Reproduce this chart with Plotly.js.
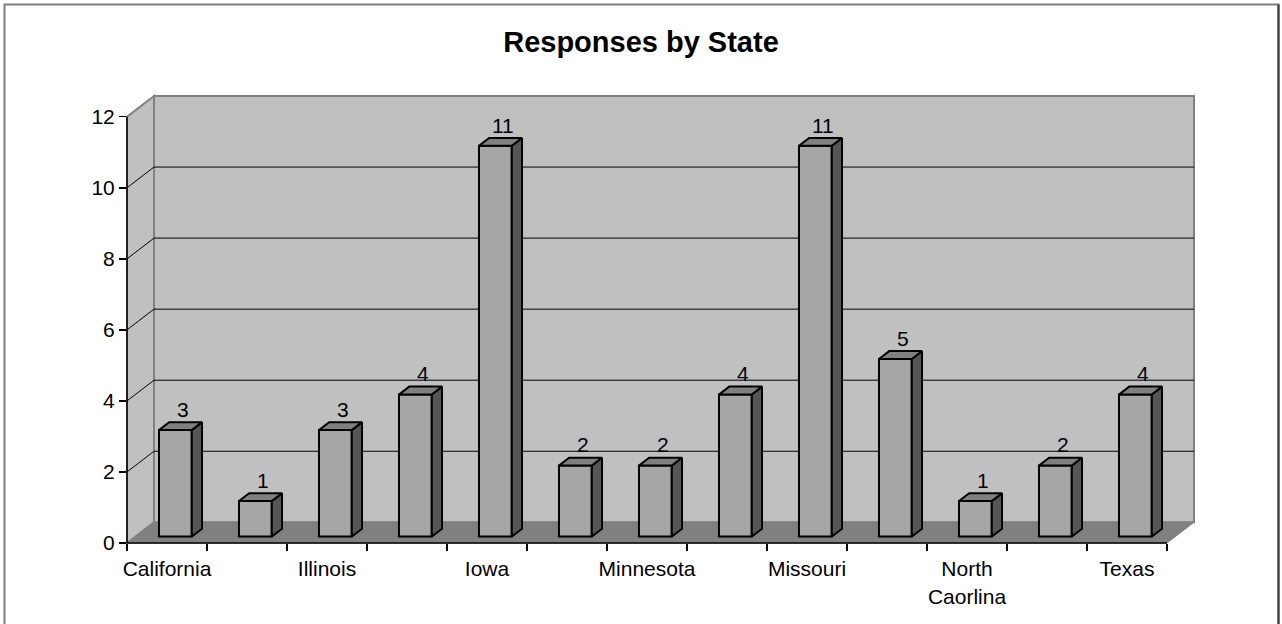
<!DOCTYPE html>
<html>
<head>
<meta charset="utf-8">
<script src="https://cdn.plot.ly/plotly-3.0.1.min.js"></script>
<style>
  html, body { margin: 0; padding: 0; background: #ffffff; }
  #chart { width: 1282px; height: 624px; }
</style>
</head>
<body>
<div id="chart"></div>
<script>
// ---- data ----
// Only every other category label is printed in the reference; unreadable ones are left blank.
var categories = ["California", "", "Illinois", "", "Iowa", "", "Minnesota", "", "Missouri", "", "North<br>Caorlina", "", "Texas"];
var responses  = [3, 1, 3, 4, 11, 2, 2, 4, 11, 5, 1, 2, 4];
var yTickVals  = [0, 2, 4, 6, 8, 10, 12];
var chartTitle = "Responses by State";

// ---- 3D geometry (oblique projection) ----
var n = categories.length;
var W = 1282, H = 624;
var mL = 127, mR = 88, mT = 96, mB = 81;
var plotW = W - mL - mR, plotH = H - mT - mB;
var xPerUnit = 80;                 // px per category
var yPerUnit = 35.525;             // px per response
var dxD = 27 / xPerUnit;           // depth offset in x units
var yMax = plotH / yPerUnit;       // top of back wall
var dyD = yMax - 12;               // depth offset in y units
var xMin = -0.5, xMax = xMin + plotW / xPerUnit;
var f0 = 0.31, f1 = 0.69;          // bar front/back depth fractions
var hw = 0.205;                    // bar half width

function px(x) { return (x - xMin) / (xMax - xMin); }
function py(y) { return y / yMax; }
function pxPix(p) { return (p - mL) / plotW; }
function pyPix(p) { return (mT + plotH - p) / plotH; }

var shapes = [];
var wallL = px(xMin + dxD), wallB = py(dyD);
// back wall
shapes.push({type: 'rect', xref: 'paper', yref: 'paper', x0: wallL, x1: 1, y0: wallB, y1: 1,
  fillcolor: '#c0c0c0', line: {color: '#808080', width: 2}, layer: 'below'});
// left side wall
shapes.push({type: 'path', xref: 'paper', yref: 'paper', layer: 'below',
  path: 'M0,0 L0,' + py(12) + ' L' + wallL + ',1 L' + wallL + ',' + wallB + ' Z',
  fillcolor: '#c0c0c0', line: {color: '#808080', width: 2}});
// floor
shapes.push({type: 'path', xref: 'paper', yref: 'paper', layer: 'below',
  path: 'M0,0 L' + px(n - 0.5) + ',0 L1,' + wallB + ' L' + wallL + ',' + wallB + ' Z',
  fillcolor: '#808080', line: {color: '#808080', width: 1}});
// gridlines on back and left walls
yTickVals.forEach(function (v) {
  if (v === 0 || v === 12) return;
  shapes.push({type: 'line', xref: 'paper', yref: 'paper', layer: 'below',
    x0: wallL, x1: 1, y0: py(v + dyD), y1: py(v + dyD), line: {color: '#000000', width: 1}});
  shapes.push({type: 'line', xref: 'paper', yref: 'paper', layer: 'below',
    x0: 0, x1: wallL, y0: py(v), y1: py(v + dyD), line: {color: '#000000', width: 1}});
});
// axis lines
shapes.push({type: 'line', xref: 'paper', yref: 'paper', x0: 0, x1: 0, y0: 0, y1: py(12),
  line: {color: '#000000', width: 1.5}});
shapes.push({type: 'line', xref: 'paper', yref: 'paper', x0: 0, x1: px(n - 0.5), y0: 0, y1: 0,
  line: {color: '#000000', width: 1.5}});
// chart border
shapes.push({type: 'rect', xref: 'paper', yref: 'paper',
  x0: pxPix(4.5), x1: pxPix(1278.5), y0: pyPix(630), y1: pyPix(4.5),
  line: {color: '#808080', width: 2}});
shapes.push({type: 'line', xref: 'paper', yref: 'paper',
  x0: pxPix(1278.5), x1: pxPix(1278.5), y0: pyPix(630), y1: pyPix(4.5),
  line: {color: '#3a3a3a', width: 2}});

// ---- bar faces from data ----
var frontX = [], frontBase = [], sideX = [], sideY = [], topX = [], topY = [], lblX = [], lblY = [], lblT = [];
responses.forEach(function (v, i) {
  var xl = i - hw, xr = i + hw;
  frontX.push(i + f0 * dxD);
  frontBase.push(f0 * dyD);
  sideX.push(xr + f0 * dxD, xr + f1 * dxD, xr + f1 * dxD, xr + f0 * dxD, xr + f0 * dxD, null);
  sideY.push(f0 * dyD, f1 * dyD, v + f1 * dyD, v + f0 * dyD, f0 * dyD, null);
  topX.push(xl + f0 * dxD, xr + f0 * dxD, xr + f1 * dxD, xl + f1 * dxD, xl + f0 * dxD, null);
  topY.push(v + f0 * dyD, v + f0 * dyD, v + f1 * dyD, v + f1 * dyD, v + f0 * dyD, null);
  lblX.push(i + 0.5 * dxD + 0.03);
  lblY.push(v + f1 * dyD);
  lblT.push(String(v));
});

var traces = [
  {type: 'scatter', mode: 'lines', x: sideX, y: sideY, fill: 'toself', fillcolor: '#555555',
   line: {color: '#000000', width: 2}, hoverinfo: 'skip', showlegend: false},
  {type: 'scatter', mode: 'lines', x: topX, y: topY, fill: 'toself', fillcolor: '#808080',
   line: {color: '#000000', width: 2}, hoverinfo: 'skip', showlegend: false},
  {type: 'bar', x: frontX, y: responses, base: frontBase, width: 2 * hw,
   marker: {color: '#a6a6a6', line: {color: '#000000', width: 2}}, showlegend: false,
   hovertemplate: '%{y}<extra></extra>'},
  {type: 'scatter', mode: 'text', x: lblX, y: lblY, text: lblT, textposition: 'top center',
   textfont: {family: 'Liberation Sans, Arial, sans-serif', size: 21, color: '#000000'},
   cliponaxis: false, hoverinfo: 'skip', showlegend: false}
];

var centerVals = [], centerText = [], boundVals = [];
categories.forEach(function (c, i) { centerVals.push(i); centerText.push(c); });
for (var b = 0; b <= n; b++) boundVals.push(b - 0.5);

var layout = {
  width: W, height: H, autosize: false,
  margin: {l: mL, r: mR, t: mT, b: mB, pad: 0},
  paper_bgcolor: '#ffffff', plot_bgcolor: 'rgba(0,0,0,0)',
  font: {family: 'Liberation Sans, Arial, sans-serif', size: 21, color: '#000000'},
  title: {text: chartTitle, x: 0.5, xref: 'container', xanchor: 'center',
          y: 1 - 41.7 / H, yref: 'container', yanchor: 'middle',
          font: {family: 'Liberation Sans, Arial, sans-serif', size: 29, weight: 'bold', color: '#000000'}},
  xaxis: {range: [xMin, xMax], showgrid: false, zeroline: false, showline: false,
          tickmode: 'array', tickvals: centerVals, ticktext: centerText,
          ticks: 'outside', ticklen: 7, tickcolor: 'rgba(0,0,0,0)',
          tickfont: {size: 21},
          minor: {tickmode: 'array', tickvals: boundVals, ticks: 'outside', ticklen: 7,
                  tickcolor: '#000000', tickwidth: 1.5, showgrid: false},
          fixedrange: true},
  yaxis: {range: [0, yMax], showgrid: false, zeroline: false, showline: false,
          tickmode: 'array', tickvals: yTickVals, ticks: 'outside', ticklen: 7,
          tickcolor: '#000000', tickwidth: 1.5, tickfont: {size: 21}, fixedrange: true},
  shapes: shapes,
  bargap: 0,
  hovermode: false
};

Plotly.newPlot('chart', traces, layout, {displayModeBar: false, staticPlot: true});
</script>
</body>
</html>
